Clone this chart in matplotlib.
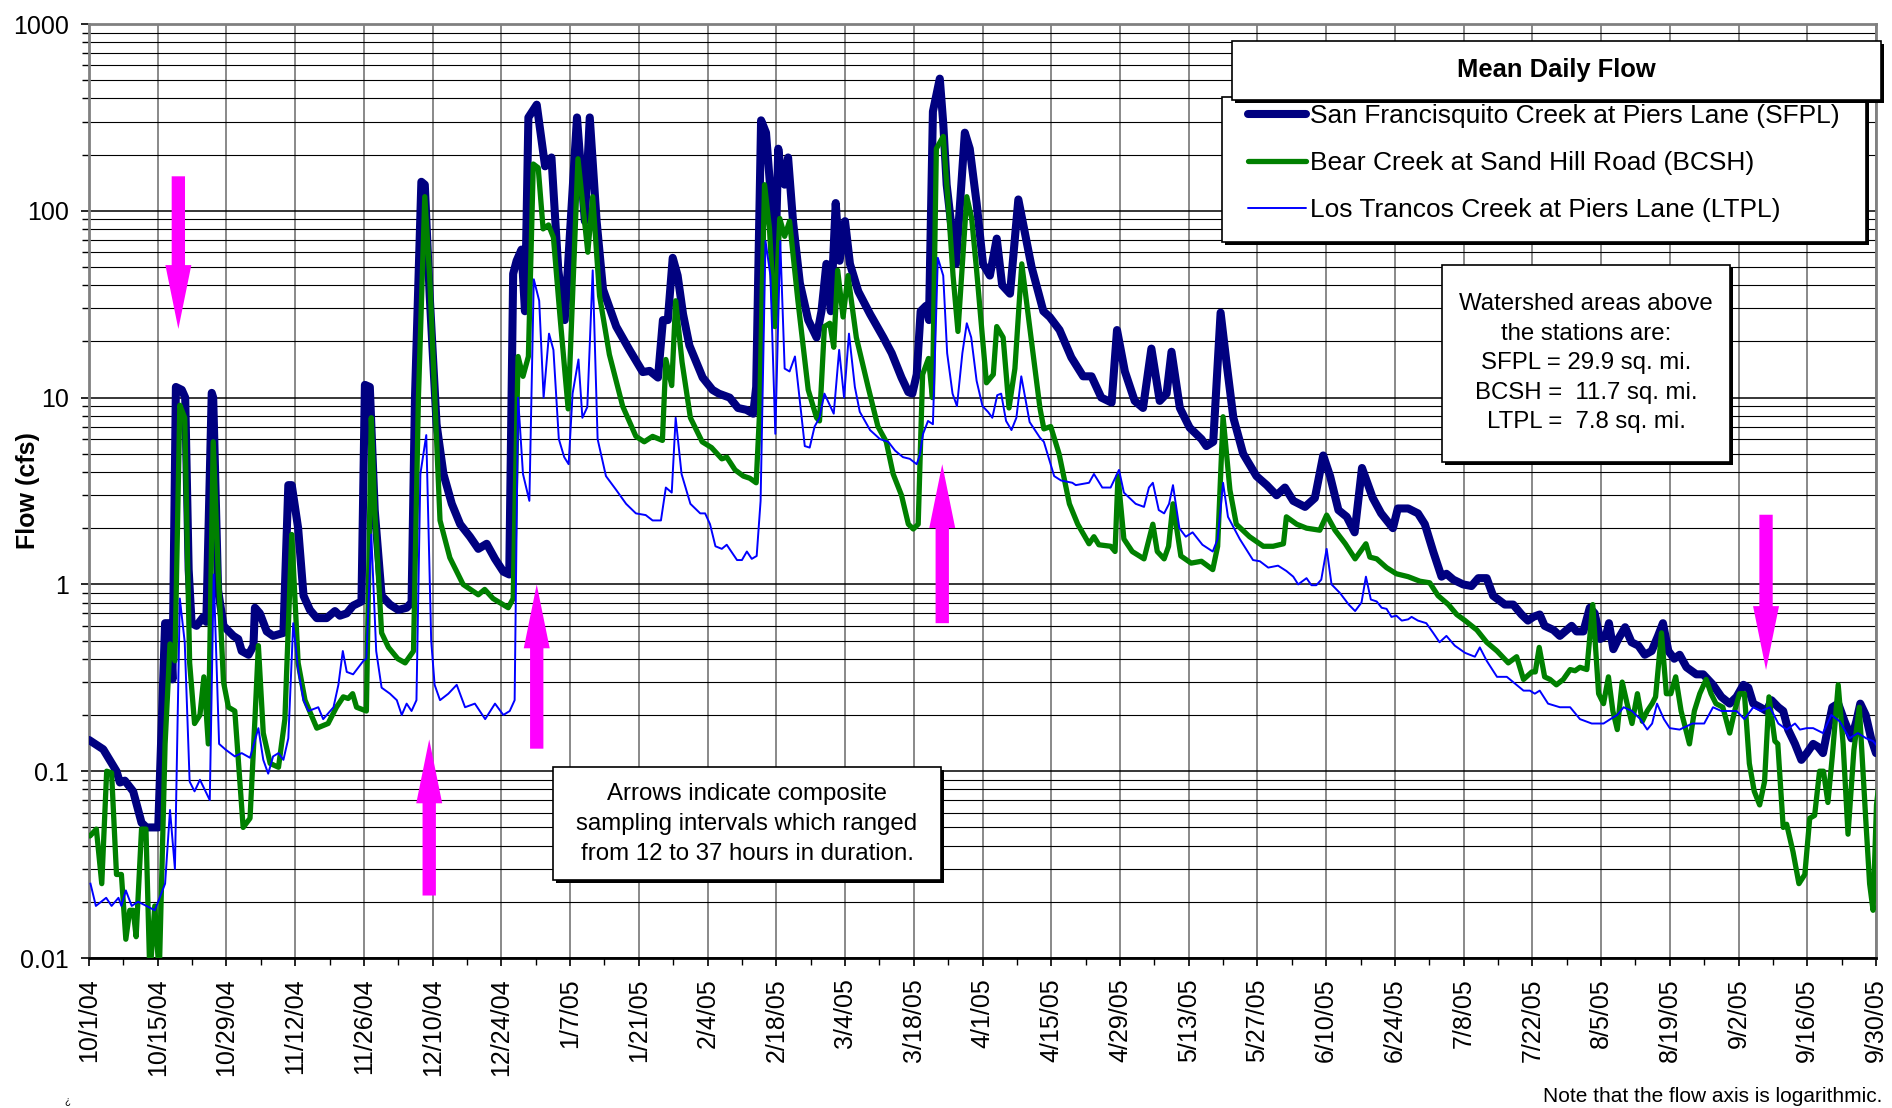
import matplotlib
matplotlib.use("Agg")
import matplotlib.pyplot as plt
from matplotlib.patches import Rectangle
from matplotlib.ticker import FixedLocator, NullFormatter, MultipleLocator
import numpy as np
import pandas as pd

plt.rcParams['font.family'] = ['Liberation Sans', 'DejaVu Sans']

# dias desde el 10/1/04 y caudal medio diario (cfs)
sfpl_day = [0, 2.9, 5.6, 6.3, 7.3, 9.0, 10.7, 11.7, 14.1, 15.5, 16.5, 17.0, 17.7, 18.9, 19.6, 20.3,
            20.9, 21.9, 23.3, 23.9, 25.0, 25.3, 26.3, 27.4, 29.4, 30.4, 31.1, 32.5, 33.5, 33.8, 34.8,
            36.2, 37.5, 39.6, 40.6, 41.3, 42.6, 43.7, 45.0, 46.4, 48.4, 50.1, 51.1, 52.5, 53.8, 55.5,
            56.2, 57.2, 58.2, 59.6, 61.3, 63.0, 64.7, 65.7, 66.4, 67.7, 68.4, 69.4, 70.8, 72.2, 73.9,
            75.6, 77.6, 79.3, 81.0, 82.7, 84.4, 85.6, 86.4, 87.1, 88.1, 88.8, 89.5, 91.2, 92.9, 94.2,
            95.6, 96.9, 99.4, 101.0, 102.0, 103.4, 104.7, 107.4, 110.1, 112.8, 114.2, 115.9, 116.9,
            117.9, 118.9, 119.9, 121.0, 122.3, 125.0, 127.0, 128.3, 130.5, 132.2, 133.9, 135.3, 135.9,
            136.9, 137.9, 139.0, 139.7, 140.4, 141.1, 141.7, 142.4, 143.4, 144.8, 146.5, 148.2, 149.2,
            150.2, 151.1, 152.1, 152.9, 154.0, 155.0, 156.7, 159.1, 161.8, 163.5, 165.5, 166.9, 167.7,
            168.6, 169.4, 170.5, 171.1, 171.9, 173.3, 174.0, 174.7, 175.7, 176.6, 178.4, 179.4, 180.8,
            182.1, 183.5, 184.9, 186.0, 187.6, 189.3, 190.6, 192.0, 194.4, 195.7, 197.7, 200.1, 202.5,
            204.2, 206.2, 208.3, 209.4, 211.0, 213.0, 214.7, 216.4, 218.1, 219.5, 220.5, 222.2, 224.2,
            226.6, 227.6, 229.0, 230.5, 231.7, 233.1, 235.1, 237.8, 239.9, 241.9, 243.6, 245.3, 247.7,
            249.7, 251.4, 252.8, 254.5, 256.2, 257.8, 259.3, 261.5, 263.2, 265.6, 266.6, 268.7, 270.7,
            272.1, 273.8, 275.5, 276.5, 277.9, 279.9, 281.6, 283.0, 284.7, 286.0, 288.4, 290.1, 291.8,
            293.1, 294.2, 295.5, 296.5, 298.3, 299.6, 302.0, 303.0, 304.4, 305.7, 306.7, 307.8, 309.0,
            309.6, 310.5, 311.5, 312.9, 314.2, 315.6, 316.9, 318.3, 319.6, 320.6, 321.7, 322.9, 324.0,
            325.4, 327.4, 328.8, 330.8, 332.5, 334.2, 335.6, 337.0, 338.0, 339.0, 340.4, 341.7, 342.7,
            344.1, 345.1, 346.1, 347.5, 348.8, 349.9, 351.2, 352.2, 353.2, 354.2, 355.1, 356.3, 357.6,
            359.0, 360.0, 360.8, 361.9, 363.0, 364.0]
sfpl_cfs = [0.147, 0.131, 0.10, 0.087, 0.089, 0.078, 0.053, 0.05, 0.05, 0.62, 0.62, 0.31, 11.4, 11.0, 10.0, 1.2,
            0.62, 0.60, 0.67, 0.63, 10.6, 10.0, 0.93, 0.60, 0.53, 0.51, 0.44, 0.42, 0.47, 0.75, 0.70,
            0.56, 0.53, 0.55, 3.4, 3.4, 2.0, 0.87, 0.73, 0.66, 0.66, 0.72, 0.68, 0.70, 0.77, 0.81,
            11.7, 11.4, 2.5, 0.87, 0.78, 0.73, 0.75, 0.80, 10.0, 143, 138, 35, 7.2, 3.9, 2.7,
            2.1, 1.8, 1.55, 1.65, 1.37, 1.17, 1.13, 46, 54, 62, 29, 316, 370, 173, 193,
            48, 26, 316, 88, 316, 88, 38, 24, 18, 13.7, 13.9, 12.8, 26,
            26, 56, 45, 28, 19, 12.8, 11.0, 10.5, 10.0, 8.8, 8.6, 8.2, 11.4,
            305, 262, 110, 41, 215, 150, 138, 193, 88, 41, 26, 21, 29,
            52, 29, 110, 54, 88, 52, 37, 28, 21, 17.3, 12.8, 10.7, 10.5,
            13.3, 29, 31, 26, 340, 510, 295, 138, 81, 52, 262, 215, 110,
            52, 45, 71, 40, 36, 115, 77, 50, 29, 27, 23, 16.4, 13.0,
            13.0, 10.0, 9.4, 23, 13.8, 9.6, 8.8, 18.3, 9.6, 10.5, 17.6, 8.8, 6.9,
            6.0, 5.5, 5.8, 28.5, 15.4, 7.8, 5.0, 3.8, 3.4, 3.0, 3.3, 2.8, 2.6,
            2.9, 4.9, 3.8, 2.5, 2.3, 1.9, 4.2, 2.9, 2.4, 2.0, 2.55, 2.55, 2.4,
            2.1, 1.5, 1.1, 1.14, 1.06, 1.0, 0.98, 1.08, 1.08, 0.87, 0.78, 0.78, 0.69,
            0.64, 0.67, 0.69, 0.60, 0.57, 0.53, 0.60, 0.56, 0.56, 0.75, 0.70, 0.51, 0.53,
            0.62, 0.45, 0.51, 0.59, 0.49, 0.47, 0.42, 0.44, 0.53, 0.62, 0.44, 0.40, 0.42,
            0.36, 0.33, 0.33, 0.29, 0.25, 0.23, 0.25, 0.29, 0.28, 0.23, 0.22, 0.21, 0.24,
            0.22, 0.21, 0.167, 0.14, 0.115, 0.125, 0.14, 0.135, 0.125, 0.17, 0.22, 0.23, 0.185,
            0.15, 0.185, 0.23, 0.20, 0.15, 0.125]

bcsh_day = [0.2, 1.5, 2.6, 3.6, 4.6, 5.6, 6.6, 7.5, 8.3, 9.0, 9.6, 10.7, 11.6, 12.4, 13.4, 14.3,
            15.5, 16.5, 17.5, 18.5, 19.5, 20.5, 21.5, 22.6, 23.4, 24.3, 25.3, 26.3, 27.4, 28.4, 29.7,
            31.4, 32.8, 33.8, 34.5, 35.5, 36.9, 38.6, 39.9, 41.3, 42.6, 44.0, 46.4, 48.7, 50.4, 51.8,
            52.8, 53.7, 54.5, 56.5, 57.5, 58.2, 59.6, 61.0, 62.9, 64.4, 66.1, 67.1, 68.4, 69.4, 71.5,
            73.5, 76.2, 79.3, 80.6, 82.3, 85.4, 86.4, 87.4, 88.4, 89.5, 90.5, 91.5, 92.5, 93.6, 94.6,
            95.9, 97.6, 99.6, 101.6, 102.6, 104.0, 106.0, 108.7, 111.4, 113.1, 114.8, 116.8, 117.5,
            118.7, 119.5, 120.8, 122.5, 124.9, 126.8, 128.9, 129.9, 131.6, 133.3, 134.6, 135.9, 136.6,
            137.6, 138.6, 139.7, 140.7, 141.7, 142.7, 144.4, 146.5, 148.2, 148.8, 149.8, 150.9, 151.7,
            152.5, 153.6, 154.6, 156.3, 158.7, 160.7, 162.4, 163.8, 165.5, 166.9, 167.9, 168.9, 169.8,
            171.0, 171.8, 172.6, 174.0, 175.0, 176.0, 177.0, 178.8, 179.8, 180.8, 182.8, 184.2, 184.9,
            186.2, 187.4, 188.6, 190.0, 191.6, 193.7, 194.5, 195.9, 197.6, 199.7, 201.4, 203.7, 204.7,
            205.7, 208.1, 209.0, 209.6, 210.8, 212.5, 214.9, 216.7, 217.6, 219.0, 219.9, 220.8, 222.4,
            224.5, 226.6, 228.9, 229.9, 231.0, 232.4, 233.7, 236.4, 239.2, 241.2, 243.3, 243.9, 246.0,
            248.0, 250.7, 252.1, 253.8, 255.9, 257.9, 260.1, 260.9, 262.3, 264.3, 266.3, 268.7, 271.1,
            273.1, 274.8, 276.9, 278.6, 280.3, 282.7, 284.7, 286.8, 289.1, 290.8, 292.2, 293.9, 294.6,
            295.4, 296.5, 297.6, 298.9, 300.3, 301.7, 302.7, 303.7, 305.1, 306.3, 307.5, 308.5, 309.5,
            310.4, 311.3, 312.3, 313.3, 314.3, 315.4, 316.4, 317.4, 318.4, 319.1, 320.3, 321.3, 322.2,
            323.2, 324.3, 326.0, 327.0, 328.1, 329.4, 330.4, 331.4, 332.8, 334.2, 335.2, 336.2, 337.2,
            338.2, 339.2, 340.3, 341.3, 342.2, 343.4, 344.0, 345.1, 345.8, 347.1, 348.3, 349.5, 350.5,
            351.5, 352.5, 353.3, 354.2, 355.1, 356.3, 357.3, 358.3, 359.5, 360.6, 361.9, 362.7, 363.4,
            364.1, 364.9]
bcsh_cfs = [0.045, 0.049, 0.025, 0.10, 0.098, 0.028, 0.028, 0.0126, 0.018, 0.018, 0.013, 0.049, 0.049, 0.008, 0.019, 0.008,
            0.14, 0.48, 0.39, 9.1, 7.8, 0.38, 0.18, 0.20, 0.32, 0.14, 5.8, 1.2, 0.30, 0.22, 0.21,
            0.05, 0.056, 0.19, 0.47, 0.16, 0.11, 0.105, 0.19, 1.85, 0.38, 0.24, 0.17, 0.18, 0.22, 0.25,
            0.245, 0.26, 0.22, 0.21, 7.8, 2.5, 0.55, 0.46, 0.40, 0.38, 0.44, 10.0, 119, 44, 2.2,
            1.39, 1.0, 0.88, 0.94, 0.84, 0.75, 0.84, 16.6, 13.0, 16.6, 178, 170, 80, 84, 72,
            28, 8.7, 190, 60, 119, 35, 17, 9.0, 6.2, 5.8, 6.2, 5.9, 16,
            11.6, 33, 15.5, 7.8, 5.8, 5.4, 4.7, 4.8, 4.1, 3.8, 3.7, 3.5, 8.4,
            138, 81, 24, 91, 73, 88, 33, 11, 7.8, 7.5, 24, 25, 18.6,
            48, 27, 45, 21, 11.4, 7.0, 5.8, 3.9, 3.0, 2.1, 1.98, 2.1, 13.3,
            16.2, 10, 215, 250, 110, 45, 22.6, 119, 91, 48, 12, 13.3, 24,
            21, 8.8, 14.3, 52, 24, 8.8, 6.8, 7.0, 5.0, 2.7, 2.1, 1.65, 1.8,
            1.63, 1.6, 1.5, 3.8, 1.75, 1.5, 1.37, 2.1, 1.5, 1.37, 1.6, 2.7, 1.42,
            1.3, 1.33, 1.2, 1.6, 7.9, 3.2, 2.1, 1.8, 1.6, 1.6, 1.65, 2.3, 2.1,
            2.0, 1.95, 2.35, 1.95, 1.65, 1.37, 1.65, 1.4, 1.37, 1.23, 1.14, 1.1, 1.04,
            1.02, 0.87, 0.78, 0.69, 0.64, 0.57, 0.49, 0.44, 0.38, 0.41, 0.31, 0.34, 0.34,
            0.46, 0.32, 0.31, 0.29, 0.31, 0.35, 0.345, 0.36, 0.35, 0.78, 0.26, 0.23, 0.32,
            0.21, 0.167, 0.30, 0.23, 0.18, 0.26, 0.185, 0.21, 0.23, 0.25, 0.55, 0.26, 0.26,
            0.32, 0.21, 0.14, 0.21, 0.26, 0.31, 0.26, 0.23, 0.22, 0.16, 0.21, 0.26, 0.26,
            0.11, 0.078, 0.066, 0.088, 0.25, 0.145, 0.14, 0.05, 0.052, 0.037, 0.025, 0.028, 0.056,
            0.058, 0.10, 0.10, 0.068, 0.12, 0.29, 0.14, 0.046, 0.13, 0.22, 0.056, 0.025, 0.018,
            0.066, 0.10]

ltpl_day = [0.3, 1.4, 3.5, 4.6, 6.0, 6.6, 7.5, 8.7, 10.0, 11.7, 13.4, 15.5, 16.5, 17.5, 18.5, 19.5,
            20.5, 21.5, 22.6, 24.6, 25.4, 26.5, 27.9, 29.7, 31.1, 32.8, 34.5, 35.5, 36.5, 37.5, 38.6,
            39.6, 40.6, 41.6, 42.6, 43.7, 44.7, 46.7, 47.7, 49.8, 50.8, 51.7, 52.5, 53.8, 55.9, 56.5,
            57.5, 58.5, 59.6, 61.3, 62.7, 63.7, 64.7, 65.7, 66.7, 67.5, 68.7, 69.7, 70.4, 71.5, 73.2,
            74.9, 76.6, 78.6, 80.7, 82.7, 84.4, 85.7, 86.7, 87.4, 88.4, 89.7, 90.6, 91.7, 92.6, 93.7,
            94.6, 95.7, 96.8, 97.7, 98.5, 99.7, 100.5, 101.5, 102.6, 103.6, 105.3, 107.4, 109.4, 111.4,
            113.4, 114.8, 116.5, 117.5, 118.7, 119.5, 120.7, 122.5, 124.5, 125.5, 126.5, 127.6, 128.9,
            129.9, 132.0, 133.0, 134.0, 135.0, 136.0, 136.8, 137.8, 138.8, 139.8, 140.8, 141.7, 142.7,
            143.8, 145.8, 146.8, 147.8, 148.8, 149.8, 151.7, 152.8, 153.8, 154.8, 156.0, 157.0, 159.1,
            161.1, 162.8, 164.2, 165.8, 167.2, 168.6, 169.2, 169.9, 170.9, 171.9, 172.9, 174.0, 174.8,
            175.9, 176.8, 177.9, 178.8, 179.7, 180.8, 182.0, 183.1, 184.0, 185.0, 185.8, 186.8, 187.9,
            188.9, 189.9, 191.6, 193.7, 194.5, 196.6, 198.0, 200.3, 201.0, 203.7, 204.7, 206.4, 208.1,
            209.8, 210.8, 213.2, 214.9, 215.9, 216.7, 217.9, 219.0, 220.0, 220.8, 222.1, 223.4, 224.8,
            226.8, 228.9, 229.9, 231.0, 232.0, 234.4, 237.1, 238.5, 240.2, 242.2, 243.9, 245.3, 246.3,
            248.0, 249.0, 250.0, 251.0, 252.1, 253.1, 254.8, 256.6, 257.9, 259.2, 260.1, 261.1, 262.3,
            263.3, 264.3, 265.3, 266.3, 267.4, 268.7, 269.4, 270.7, 272.4, 273.8, 275.1, 276.5, 278.2,
            280.3, 282.3, 283.3, 284.7, 286.8, 288.8, 290.1, 292.2, 293.5, 294.5, 295.5, 297.2, 299.6,
            301.7, 303.7, 306.1, 308.5, 309.9, 311.3, 312.6, 314.3, 316.0, 317.4, 318.4, 319.4, 320.8,
            322.0, 324.0, 326.6, 329.0, 330.8, 332.5, 334.2, 335.6, 337.2, 339.0, 340.6, 342.4, 344.1,
            345.8, 347.5, 348.5, 349.9, 351.2, 353.2, 354.9, 356.6, 358.6, 360.3, 362.0, 363.4, 364.9]
ltpl_cfs = [0.025, 0.019, 0.021, 0.019, 0.021, 0.019, 0.023, 0.019, 0.020, 0.019, 0.018, 0.025, 0.062, 0.030, 0.84, 0.49,
            0.088, 0.078, 0.09, 0.07, 1.13, 0.14, 0.13, 0.12, 0.125, 0.118, 0.17, 0.115, 0.097, 0.12, 0.125,
            0.115, 0.15, 0.62, 0.35, 0.24, 0.21, 0.22, 0.19, 0.22, 0.29, 0.44, 0.34, 0.33, 0.39, 0.40,
            1.85, 0.44, 0.28, 0.26, 0.24, 0.20, 0.23, 0.21, 0.24, 3.9, 6.3, 0.5, 0.29, 0.24, 0.26,
            0.29, 0.22, 0.23, 0.19, 0.23, 0.20, 0.21, 0.24, 10, 3.9, 2.8, 43, 33, 10, 22,
            18, 6.0, 4.8, 4.4, 10.5, 16, 7.8, 8.9, 48, 6.0, 3.8, 3.2, 2.7, 2.4,
            2.35, 2.2, 2.2, 3.3, 3.1, 7.8, 3.9, 2.7, 2.4, 2.4, 2.1, 1.6, 1.55,
            1.63, 1.35, 1.35, 1.5, 1.37, 1.42, 2.8, 69, 45, 6.4, 69, 14.3, 13.8,
            16.6, 5.5, 5.4, 7.0, 7.8, 10.5, 8.2, 18, 10, 22, 11.4, 8.4, 6.7,
            6.0, 5.8, 5.2, 4.8, 4.7, 4.4, 4.9, 6.4, 7.5, 7.2, 56, 45, 17.3,
            10.5, 9.0, 17.3, 25, 21, 12.3, 9.0, 8.4, 7.8, 10.3, 10.5, 7.5, 6.7,
            7.8, 13, 7.4, 6.1, 5.8, 3.8, 3.6, 3.5, 3.4, 3.5, 3.9, 3.3, 3.3,
            4.1, 3.1, 2.7, 2.6, 3.3, 3.5, 2.5, 2.4, 2.7, 3.4, 2.0, 1.8, 1.9,
            1.63, 1.5, 1.75, 3.5, 2.3, 1.75, 1.35, 1.33, 1.23, 1.26, 1.18, 1.10, 1.0,
            1.08, 0.99, 0.99, 1.06, 1.55, 1.0, 0.9, 0.78, 0.72, 0.80, 1.1, 0.83, 0.81,
            0.75, 0.74, 0.67, 0.68, 0.64, 0.65, 0.67, 0.64, 0.62, 0.55, 0.49, 0.53, 0.47,
            0.43, 0.41, 0.46, 0.39, 0.32, 0.32, 0.30, 0.27, 0.27, 0.26, 0.27, 0.23, 0.22,
            0.22, 0.19, 0.18, 0.18, 0.19, 0.20, 0.22, 0.21, 0.19, 0.167, 0.18, 0.23, 0.19,
            0.17, 0.167, 0.18, 0.18, 0.22, 0.21, 0.21, 0.21, 0.19, 0.22, 0.21, 0.22, 0.18,
            0.167, 0.18, 0.167, 0.17, 0.17, 0.16, 0.20, 0.185, 0.15, 0.16, 0.15, 0.145, 0.13]

# flechas de muestreo compuesto: dia, caudal cola, caudal punta
arrow_day = [18.2, 69.3, 91.2, 173.8, 341.6]
arrow_tail = [153, 0.0216, 0.132, 0.62, 2.36]
arrow_tip = [23.3, 0.148, 1.0, 4.4, 0.348]

series_labels = ["San Francisquito Creek at Piers Lane (SFPL)",
                 "Bear Creek at Sand Hill Road (BCSH)",
                 "Los Trancos Creek at Piers Lane (LTPL)"]
watershed_lines = ["Watershed areas above", "the stations are:", "SFPL = 29.9 sq. mi.",
                   "BCSH =  11.7 sq. mi.", "LTPL =  7.8 sq. mi."]
arrow_note = ["Arrows indicate composite", "sampling intervals which ranged",
              "from 12 to 37 hours in duration."]

start = pd.Timestamp("2004-10-01")
tick_days = list(range(0, 365, 14))
tick_labels = [f"{(start + pd.Timedelta(days=d)).month}/{(start + pd.Timedelta(days=d)).day}/"
               f"{(start + pd.Timedelta(days=d)).strftime('%y')}" for d in tick_days]

W, H = 1892, 1108
fig = plt.figure(figsize=(W / 100, H / 100), dpi=100)
ax = fig.add_axes([89 / W, 1 - 958 / H, (1876 - 89) / W, (958 - 24) / H])

l1, = ax.plot(sfpl_day, sfpl_cfs, color="#000080", lw=5.8, solid_joinstyle="round",
              solid_capstyle="round", zorder=3, label=series_labels[0])
l2, = ax.plot(bcsh_day, bcsh_cfs, color="#008000", lw=3.8, solid_joinstyle="round",
              solid_capstyle="round", zorder=4, label=series_labels[1])
l3, = ax.plot(ltpl_day, ltpl_cfs, color="#0000FF", lw=1.4, zorder=5, label=series_labels[2])

ax.set_yscale("log")
ax.set_ylim(0.01, 1000)
ax.set_xlim(0, 364)

decades = [0.01, 0.1, 1, 10, 100, 1000]
ax.yaxis.set_major_locator(FixedLocator(decades))
ax.set_yticklabels(["0.01", "0.1", "1", "10", "100", "1000"])
minors = [m * d for d in decades[:-1] for m in range(2, 10)]
ax.yaxis.set_minor_locator(FixedLocator(minors))
ax.yaxis.set_minor_formatter(NullFormatter())

ax.xaxis.set_major_locator(FixedLocator(tick_days))
ax.set_xticklabels(tick_labels, rotation=90)
ax.xaxis.set_minor_locator(MultipleLocator(7))

ax.tick_params(axis="both", which="major", labelsize=18, direction="out", length=5.5,
               width=1.2, color="black")
ax.tick_params(axis="y", which="major", pad=9)
ax.tick_params(axis="x", which="major", pad=9)
ax.tick_params(axis="both", which="minor", direction="out", length=5, width=1.0, color="black")

ax.grid(True, axis="x", which="major", color="#808080", lw=1.3, zorder=0)
ax.grid(True, axis="y", which="major", color="black", lw=1.1, zorder=0)
ax.grid(True, axis="y", which="minor", color="black", lw=0.8, zorder=0)
ax.set_axisbelow(True)

for side in ["left", "top", "right"]:
    ax.spines[side].set_color("#808080")
    ax.spines[side].set_linewidth(2)
ax.spines["bottom"].set_color("black")
ax.spines["bottom"].set_linewidth(2)

ax.set_ylabel("Flow (cfs)", fontsize=18, fontweight="bold")
ax.yaxis.set_label_coords(-0.0275, 0.5)

for d, t0, t1 in zip(arrow_day, arrow_tail, arrow_tip):
    ax.annotate("", xy=(d, t1), xytext=(d, t0),
                arrowprops=dict(arrowstyle="simple,head_length=4.6,head_width=1.87,tail_width=0.96",
                                color="#FF00FF", lw=0, shrinkA=0, shrinkB=0, mutation_scale=10),
                zorder=6)


def box(x0, y0, x1, y1, z=7):
    # caja blanca con sombra, coordenadas en pixeles de la figura
    fig.add_artist(Rectangle(((x0 + 2.5) / W, 1 - (y1 + 2.5) / H), (x1 - x0) / W, (y1 - y0) / H,
                             transform=fig.transFigure, facecolor="black", edgecolor="none", zorder=z))
    fig.add_artist(Rectangle((x0 / W, 1 - y1 / H), (x1 - x0) / W, (y1 - y0) / H,
                             transform=fig.transFigure, facecolor="white", edgecolor="black",
                             lw=1.2, zorder=z + 0.1))


box(1222, 97, 1866, 242)
box(1232, 41, 1881, 100, z=8)
fig.text(1556 / W, 1 - 70 / H, "Mean Daily Flow", fontsize=18.4, fontweight="bold",
         ha="center", va="center", zorder=9)

leg = fig.legend(handles=[l1, l2, l3], loc="upper left", bbox_to_anchor=(1248 / W, 1 - 104 / H),
                 bbox_transform=fig.transFigure, frameon=False, fontsize=19,
                 handlelength=2.2, handletextpad=0.15, labelspacing=0.88, borderpad=0,
                 borderaxespad=0)
leg.set_zorder(10)
for ln in leg.get_lines():
    ln.set_solid_capstyle("round")

box(1442, 265, 1730, 462)
for i, s in enumerate(watershed_lines):
    fig.text(1586 / W, 1 - (304 + 29.6 * i) / H, s, fontsize=17.3, ha="center",
             va="center", zorder=9)

box(553, 767, 941, 880)
for i, s in enumerate(arrow_note):
    fig.text(747 / W, 1 - (794 + 30 * i) / H, s, fontsize=17.3, ha="center",
             va="center", zorder=9)

fig.text(1882 / W, 1 - 1096 / H, "Note that the flow axis is logarithmic.", fontsize=15,
         ha="right", va="center")
fig.text(67 / W, 1 - 1100 / H, "¿", fontsize=7, ha="center", va="center")

fig.savefig("out.png", dpi=100, facecolor="white")
